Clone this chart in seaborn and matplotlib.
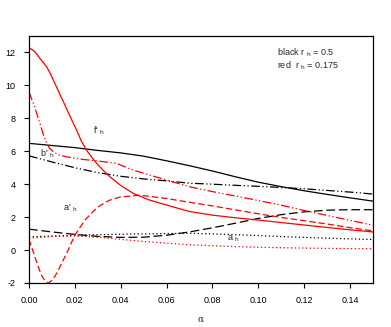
import matplotlib
matplotlib.use("Agg")
import matplotlib.pyplot as plt
import seaborn as sns
import numpy as np

sns.set_theme(style="ticks")
plt.rcParams['font.family'] = ['Liberation Sans', 'DejaVu Sans']
plt.rcParams['mathtext.default'] = 'regular'

# ---- data ----
x_grid = [0.0, 0.01, 0.02, 0.03, 0.04, 0.05, 0.06, 0.07, 0.08, 0.09, 0.10, 0.11, 0.12, 0.13, 0.14, 0.15]

f_black = [6.48, 6.35, 6.22, 6.05, 5.90, 5.70, 5.42, 5.12, 4.80, 4.45, 4.12, 3.85, 3.60, 3.38, 3.17, 2.97]
b_black = [5.72, 5.35, 5.00, 4.70, 4.48, 4.32, 4.20, 4.06, 4.00, 3.93, 3.87, 3.80, 3.72, 3.62, 3.52, 3.40]
ap_black = [1.27, 1.10, 0.95, 0.83, 0.77, 0.78, 0.90, 1.10, 1.35, 1.63, 1.92, 2.15, 2.32, 2.42, 2.45, 2.45]
a_black = [0.80, 0.85, 0.90, 0.93, 0.96, 0.98, 1.00, 1.02, 0.98, 0.93, 0.88, 0.82, 0.77, 0.72, 0.68, 0.64]
a_red = [0.72, 0.82, 0.85, 0.78, 0.65, 0.52, 0.42, 0.32, 0.26, 0.21, 0.17, 0.14, 0.12, 0.10, 0.09, 0.08]

f_red_x = [0.0, 0.0025, 0.0048, 0.0077, 0.0093, 0.0106, 0.0122, 0.0135, 0.0151, 0.0164, 0.018, 0.0208,
           0.0228, 0.0252, 0.0275, 0.0295, 0.0325, 0.0353, 0.040, 0.0455, 0.052, 0.06, 0.07, 0.08, 0.09,
           0.10, 0.11, 0.12, 0.13, 0.14, 0.15]
f_red = [12.3, 12.05, 11.64, 11.13, 10.72, 10.33, 9.85, 9.45, 8.98, 8.58, 8.10, 7.27,
         6.63, 6.05, 5.62, 5.26, 4.82, 4.45, 3.92, 3.44, 3.06, 2.73, 2.34, 2.12, 1.96,
         1.82, 1.67, 1.52, 1.37, 1.23, 1.10]

ap_red_x = [0.0, 0.001, 0.0026, 0.004, 0.0055, 0.007, 0.0084, 0.010, 0.0115, 0.0128, 0.015, 0.0171,
            0.020, 0.0244, 0.028, 0.031, 0.035, 0.0397, 0.0484, 0.06, 0.07, 0.08, 0.09, 0.10,
            0.11, 0.12, 0.13, 0.14, 0.15]
ap_red = [0.65, 0.25, -0.42, -1.0, -1.53, -1.88, -2.0, -1.85, -1.55, -1.22, -0.6, 0.0,
          0.90, 1.81, 2.35, 2.70, 3.02, 3.22, 3.33, 3.13, 2.90, 2.68, 2.44, 2.20,
          1.98, 1.78, 1.58, 1.36, 1.16]

b_red_x = [0.0, 0.0019, 0.0035, 0.0048, 0.0062, 0.0077, 0.009, 0.0106, 0.013, 0.0164, 0.0237, 0.0295,
           0.0382, 0.0455, 0.06, 0.07, 0.08, 0.09, 0.10, 0.11, 0.12, 0.13, 0.14, 0.15]
b_red = [9.60, 8.91, 8.25, 7.69, 7.05, 6.50, 6.18, 5.97, 5.78, 5.66, 5.50, 5.42,
         5.26, 4.85, 4.25, 3.84, 3.55, 3.28, 3.01, 2.72, 2.40, 2.10, 1.80, 1.51]

x_ticks = [0.00, 0.02, 0.04, 0.06, 0.08, 0.10, 0.12, 0.14]
y_ticks = [-2, 0, 2, 4, 6, 8, 10, 12]

# ---- figure ----
fig = plt.figure(figsize=(3.91, 3.27), dpi=100)
ax = fig.add_axes([0.074, 0.1346, 0.88, 0.7554])

red = '#ff0000'
dashdotdot = (0, (7, 2, 1, 2, 1, 2))
lw = 0.9

sns.lineplot(x=x_grid, y=f_black, ax=ax, color='black', lw=lw, linestyle='-')
sns.lineplot(x=x_grid, y=b_black, ax=ax, color='black', lw=lw, linestyle=dashdotdot)
sns.lineplot(x=x_grid, y=ap_black, ax=ax, color='black', lw=lw, linestyle=(0, (7, 3)))
sns.lineplot(x=x_grid, y=a_black, ax=ax, color='black', lw=lw, linestyle=(0, (1, 2)))

sns.lineplot(x=f_red_x, y=f_red, ax=ax, color=red, lw=lw, linestyle='-', sort=False)
sns.lineplot(x=b_red_x, y=b_red, ax=ax, color=red, lw=lw, linestyle=dashdotdot, sort=False)
sns.lineplot(x=ap_red_x, y=ap_red, ax=ax, color=red, lw=lw, linestyle=(0, (5, 2.5)), sort=False)
sns.lineplot(x=x_grid, y=a_red, ax=ax, color=red, lw=lw, linestyle=(0, (1, 2)))

ax.set_xlim(0, 0.15)
ax.set_ylim(-2, 13)
ax.set_xticks(x_ticks)
ax.set_xticklabels([f"{t:.2f}" for t in x_ticks])
ax.set_yticks(y_ticks)
ax.set_yticklabels([str(t) for t in y_ticks])
ax.tick_params(axis='both', which='both', direction='out', length=3.5, width=0.8,
               labelsize=6.5, colors='black', pad=6, top=False, right=False)
for s in ax.spines.values():
    s.set_color('black')
    s.set_linewidth(0.9)
ax.set_xlabel('')
ax.set_ylabel('')
fig.text(0.512, 0.022, 'α', fontsize=6.5, ha='center', va='center', family='DejaVu Serif')

fs = 6.5
ax.text(0.0279, 7.22, "f' $_{h}$", fontsize=fs, ha='left', va='center')
ax.text(0.0048, 5.83, "b' $_{h}$", fontsize=fs, ha='left', va='center')
ax.text(0.0148, 2.54, "a' $_{h}$", fontsize=fs, ha='left', va='center')
ax.text(0.0862, 0.66, "a $_{h}$", fontsize=fs, ha='left', va='center')
ax.text(0.1081, 12.0, "black r $_{h}$ = 0.5", fontsize=fs, ha='left', va='center')
ax.text(0.1081, 11.19, "red  r $_{h}$ = 0.175", fontsize=fs, ha='left', va='center')

fig.savefig('out.png', dpi=100)
